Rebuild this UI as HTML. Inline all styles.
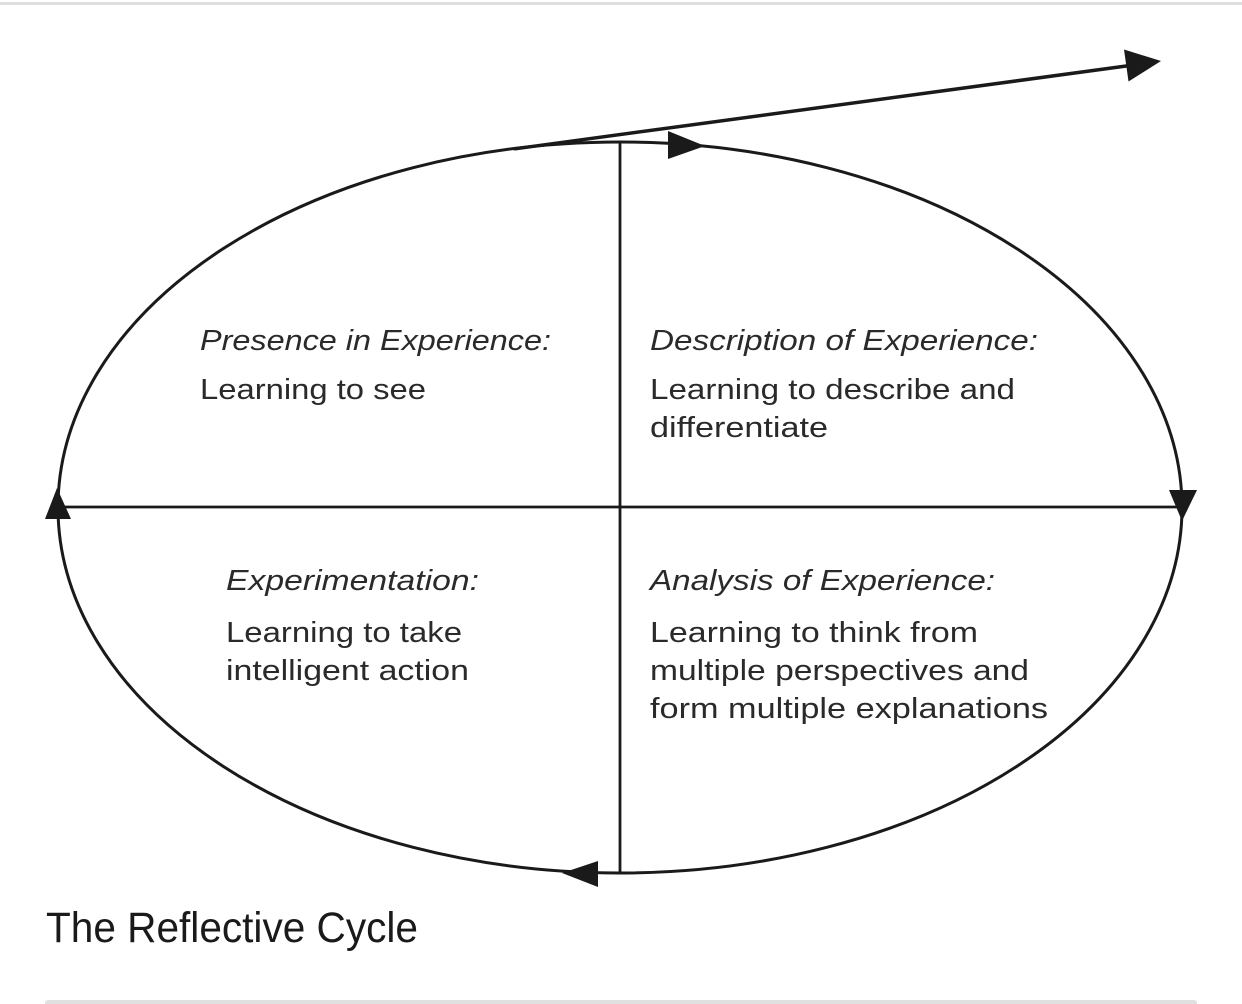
<!DOCTYPE html>
<html>
<head>
<meta charset="utf-8">
<style>
  html, body { margin: 0; padding: 0; background: #ffffff; }
  body { width: 1242px; height: 1004px; overflow: hidden; position: relative; }
  svg { position: absolute; left: 0; top: 0; display: block; }
  .h { font-family: "Liberation Sans", Arial, sans-serif; font-style: italic; font-size: 28.5px; fill: #2a2a2a; }
  .b { font-family: "Liberation Sans", Arial, sans-serif; font-size: 28.5px; fill: #2a2a2a; }
  .cap { font-family: "Liberation Sans", Arial, sans-serif; font-size: 43px; fill: #1a1a1a; }
</style>
</head>
<body>
<svg width="1242" height="1004" viewBox="0 0 1242 1004" xmlns="http://www.w3.org/2000/svg">
  <!-- top gray line -->
  <rect x="0" y="2" width="1242" height="3" fill="#dedede"/>
  <!-- bottom gray bar -->
  <rect x="45" y="1000" width="1152" height="8" rx="3" fill="#e0e0e0"/>

  <!-- ellipse -->
  <ellipse cx="620" cy="507.5" rx="562" ry="365.5" fill="none" stroke="#1a1a1a" stroke-width="3"/>
  <!-- cross lines -->
  <line x1="620" y1="142" x2="620" y2="873" stroke="#1a1a1a" stroke-width="2.8"/>
  <line x1="62" y1="507" x2="1180" y2="507" stroke="#1a1a1a" stroke-width="2.8"/>

  <!-- outgoing arrow -->
  <line x1="515" y1="148.8" x2="1130" y2="65.5" stroke="#1a1a1a" stroke-width="3.5" stroke-linecap="round"/>
  <polygon points="1161,61 1124,49.5 1128.5,81.5" fill="#1a1a1a"/>

  <!-- top arrowhead (right) -->
  <polygon points="705,146 668,131 668,159" fill="#1a1a1a"/>
  <!-- right arrowhead (down) -->
  <polygon points="1182,521 1169,490 1197,490" fill="#1a1a1a"/>
  <!-- bottom arrowhead (left) -->
  <polygon points="562,873 598,861 598,887" fill="#1a1a1a"/>
  <!-- left arrowhead (up) -->
  <polygon points="57,488 45,519 71,519" fill="#1a1a1a"/>

  <!-- Top-left quadrant -->
  <text class="h" x="200" y="350" textLength="351" lengthAdjust="spacingAndGlyphs">Presence in Experience:</text>
  <text class="b" x="200" y="399" textLength="226" lengthAdjust="spacingAndGlyphs">Learning to see</text>

  <!-- Top-right quadrant -->
  <text class="h" x="650" y="350" textLength="388" lengthAdjust="spacingAndGlyphs">Description of Experience:</text>
  <text class="b" x="650" y="399" textLength="365" lengthAdjust="spacingAndGlyphs">Learning to describe and</text>
  <text class="b" x="650" y="437" textLength="178" lengthAdjust="spacingAndGlyphs">differentiate</text>

  <!-- Bottom-left quadrant -->
  <text class="h" x="226" y="590" textLength="253" lengthAdjust="spacingAndGlyphs">Experimentation:</text>
  <text class="b" x="226" y="642" textLength="236" lengthAdjust="spacingAndGlyphs">Learning to take</text>
  <text class="b" x="226" y="680" textLength="243" lengthAdjust="spacingAndGlyphs">intelligent action</text>

  <!-- Bottom-right quadrant -->
  <text class="h" x="650" y="590" textLength="345" lengthAdjust="spacingAndGlyphs">Analysis of Experience:</text>
  <text class="b" x="650" y="642" textLength="328" lengthAdjust="spacingAndGlyphs">Learning to think from</text>
  <text class="b" x="650" y="680" textLength="379" lengthAdjust="spacingAndGlyphs">multiple perspectives and</text>
  <text class="b" x="650" y="718" textLength="398" lengthAdjust="spacingAndGlyphs">form multiple explanations</text>

  <!-- caption -->
  <text class="cap" x="46" y="942" textLength="372" lengthAdjust="spacingAndGlyphs">The Reflective Cycle</text>
</svg>
</body>
</html>
